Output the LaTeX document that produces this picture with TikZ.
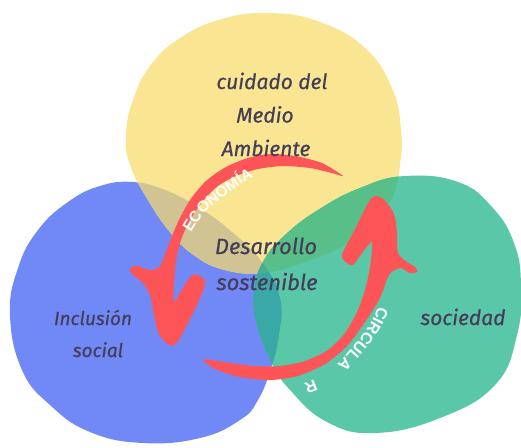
\documentclass[tikz,border=0pt]{standalone}
\usepackage{fontspec}
\setmainfont{Fira Sans}[ItalicFeatures={FakeBold=0.6}]
\newfontfamily\arrowfont{Liberation Sans Bold}
\usetikzlibrary{decorations.text}
\definecolor{yel}{HTML}{FAE592}
\definecolor{blu}{HTML}{7189F7}
\definecolor{grn}{HTML}{5AC7A8}
\definecolor{tanc}{HTML}{D2C492}
\definecolor{dgrn}{HTML}{58BF88}
\definecolor{tealc}{HTML}{3AA8A7}
\definecolor{trip}{HTML}{4AAE92}
\definecolor{redc}{HTML}{FD5557}
\definecolor{ink}{HTML}{433D58}
\begin{document}
\begin{tikzpicture}[x=1pt,y=-1pt,
  lbl/.style={text=ink, inner sep=0pt, anchor=base},
  arrowshape/.style={fill=redc},
  afont/.style={font=\arrowfont\fontsize{16}{16}\selectfont},
  arrowtext/.style={decorate, decoration={text along path, text color=white, text align=left}}]
\useasboundingbox (0,0) rectangle (521,447);
\def\ypath{plot[smooth cycle, tension=0.75] coordinates {(270,13) (320,22) (365,48) (392,88) (401,130) (400,165) (393,195) (375,222) (345,245) (305,262) (263,273) (225,270) (195,256) (170,232) (148,200) (130,165) (126,135) (133,100) (150,66) (180,38) (222,19)}}
\def\bpath{plot[smooth cycle, tension=0.75] coordinates {(133,182) (165,190) (198,207) (232,232) (262,262) (280,298) (279,335) (271,368) (258,400) (240,420) (200,438) (143,443) (90,432) (50,405) (22,370) (10,315) (18,268) (38,230) (68,202) (100,186)}}
\def\gpath{plot[smooth cycle, tension=0.75] coordinates {(405,176) (458,182) (492,207) (514,243) (521,285) (517,335) (495,385) (440,418) (375,433) (327,422) (290,390) (270,360) (256,322) (254,290) (264,260) (285,235) (318,210) (360,188)}}
% blobs
\fill[blu] \bpath;
\fill[yel] \ypath;
\fill[grn] \gpath;
\begin{scope}\clip \bpath; \fill[tanc] \ypath; \end{scope}
\begin{scope}\clip \gpath; \fill[dgrn] \ypath; \end{scope}
\begin{scope}\clip \gpath; \fill[tealc] \bpath; \end{scope}
\begin{scope}\clip \gpath; \clip \bpath; \fill[trip] \ypath; \end{scope}
% arrow 1 (ECONOMIA)
\fill[arrowshape] plot[smooth cycle, tension=0.45] coordinates {
  (343,176) (322,163) (295,156) (270,154) (248,158) (226,167) (206,181) (190,200) (178,222) (168,246) (160,266)
  (150,270) (138,266) (130,268) (132,274) (142,282) (150,295) (154,315) (158,332) (165,342) (173,346)
  (180,338) (188,323) (197,305) (204,288) (205,281) (200,276) (192,275) (182,289) (174,302)
  (174,285) (176,262) (181,240) (190,220) (203,201) (218,186) (236,176) (258,169) (283,166) (310,168) (332,173)};
% arrow 2 (CIRCULAR)
\fill[arrowshape] plot[smooth cycle, tension=0.45] coordinates {
  (203,360) (215,369) (240,377) (270,380) (298,376) (325,364) (347,346) (365,322) (380,298) (389,275)
  (400,268) (410,273) (417,272) (415,267) (407,262) (398,253) (397,233) (395,217) (390,207) (382,198) (375,196) (370,200) (363,213) (353,233) (343,252)
  (342,258) (347,263) (353,265) (363,252) (372,242)
  (370,267) (365,290) (357,312) (345,333) (328,350) (305,361) (280,366) (255,366) (230,363) (212,360)};
% texts along arrows
\path[arrowtext, decoration={text={|\arrowfont\fontsize{15.5}{16}\selectfont|ECONOMÍA}}]
  plot[smooth] coordinates {(191,233) (202,216) (212,206) (222,198) (234,189) (248,180) (263,173) (283,170) (305,171)};
\path[arrowtext, decoration={text={|\arrowfont\fontsize{16}{16}\selectfont|CIRCULA}}]
  plot[smooth] coordinates {(378,306) (374,317) (367,329) (358,341) (348,353) (336,365) (320,377) (303,387) (285,395)};
\node[afont, text=white, inner sep=0pt, rotate=-158] (rr) at (311,387) {R};
% labels
\node[lbl, font=\fontsize{21}{21}\selectfont\itshape] (ma1) at (272,89) {cuidado del};
\node[lbl, font=\fontsize{21}{21}\selectfont\itshape] (ma2) at (265,122.5) {Medio};
\node[lbl, font=\fontsize{21}{21}\selectfont\itshape] (ma3) at (266,156) {Ambiente};
\node[lbl, font=\fontsize{22}{22}\selectfont\itshape] (ds1) at (266,254) {Desarrollo};
\node[lbl, font=\fontsize{22}{22}\selectfont\itshape] (ds2) at (267,290) {sostenible};
\node[lbl, font=\fontsize{19}{19}\selectfont\itshape] (is1) at (93,325) {Inclusión};
\node[lbl, font=\fontsize{19}{19}\selectfont\itshape] (is2) at (98,357) {social};
\node[lbl, font=\fontsize{21}{21}\selectfont\itshape] (so) at (463,325) {sociedad};
\end{tikzpicture}
\end{document}
